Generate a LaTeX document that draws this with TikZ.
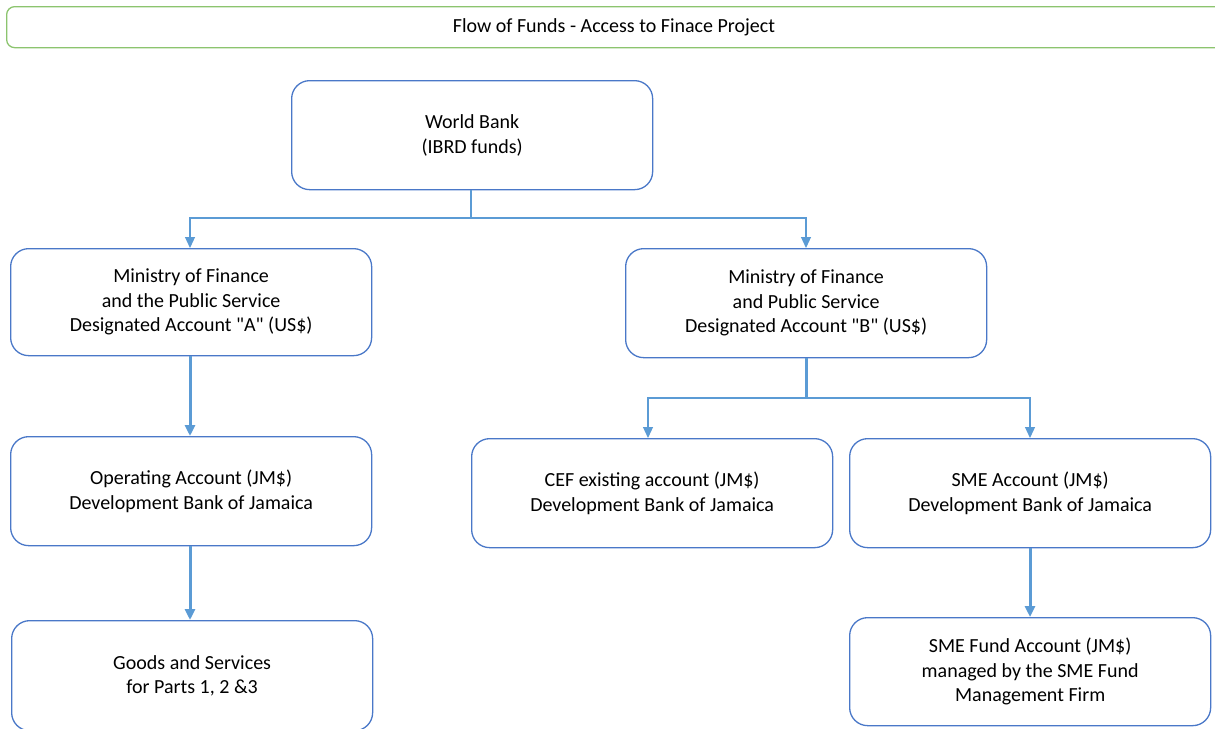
\documentclass[tikz,border=0pt]{standalone}
\usepackage{fontspec}
\setmainfont{Carlito}[Ligatures=TeXOff]
\usetikzlibrary{arrows.meta}
\definecolor{boxblue}{HTML}{4A78C8}
\definecolor{linkblue}{HTML}{5B9BD5}
\definecolor{titlegreen}{HTML}{8CC46E}
\begin{document}
\begin{tikzpicture}[x=1pt,y=-1pt,
  fbox/.style={draw=boxblue,line width=1.3pt,rounded corners=18pt,fill=white,
    inner sep=0pt,align=center,font=\fontsize{20}{24.5}\selectfont,anchor=north west},
  link/.style={draw=linkblue,line width=1.2pt},
  boldlink/.style={draw=linkblue,line width=3pt},
  tip/.style={-{Triangle[width=10pt,length=11pt]}}]
\useasboundingbox (0,0) rectangle (1215,728);
\clip (0,0) rectangle (1215,728);
\node[draw=titlegreen,line width=1.3pt,rounded corners=8pt,anchor=north west,
  minimum width=1220pt,minimum height=41pt,inner sep=0pt] (title) at (6,6) {};
\node[font=\fontsize{20}{24}\selectfont] (titletext) at (614,27) {Flow of Funds - Access to Finace Project};
\node[fbox,minimum width=361pt,minimum height=109pt] (wb) at (291,80) {World Bank\\[0.5pt](IBRD funds)};
\node[fbox,minimum width=361pt,minimum height=107pt] (mofa) at (10,248) {Ministry of Finance\\and the Public Service\\Designated Account "A" (US\$)};
\node[fbox,minimum width=361pt,minimum height=109pt] (mofb) at (625,248) {Ministry of Finance\\and Public Service\\Designated Account "B" (US\$)};
\node[fbox,minimum width=361pt,minimum height=109pt] (oper) at (10,436) {Operating Account (JM\$)\\Development Bank of Jamaica};
\node[fbox,minimum width=361pt,minimum height=109pt] (cef) at (471,438) {CEF existing account (JM\$)\\Development Bank of Jamaica};
\node[fbox,minimum width=361pt,minimum height=109pt] (smea) at (849,438) {SME Account (JM\$)\\Development Bank of Jamaica};
\node[fbox,minimum width=361pt,minimum height=110pt] (goods) at (11,620) {Goods and Services\\for Parts 1, 2 \&3};
\node[fbox,minimum width=361pt,minimum height=108pt] (smef) at (849,617) {SME Fund Account (JM\$)\\managed by the SME Fund\\Management Firm};
% World Bank split
\coordinate (wbj) at (471,218);
\draw[link] (wb.south -| wbj) -- (wbj);
\draw[link,tip] (wbj) -| (mofa.north -| 190,0);
\draw[link,tip] (wbj) -| (mofb.north -| 806,0);
% MoF A -> Operating
\draw[boldlink,tip] (mofa.south -| 190,0) -- (oper.north -| 190,0);
% MoF B split
\coordinate (mbj) at (806,398);
\draw[boldlink] (mofb.south -| mbj) -- (mbj);
\draw[link,tip] (mbj) -| (cef.north -| 648,0);
\draw[link,tip] (mbj) -| (smea.north -| 1030,0);
% Operating -> Goods
\draw[boldlink,tip] (oper.south -| 190,0) -- (goods.north -| 190,0);
% SME Account -> SME Fund
\draw[boldlink,tip] (smea.south -| 1030,0) -- (smef.north -| 1030,0);
\end{tikzpicture}
\end{document}
